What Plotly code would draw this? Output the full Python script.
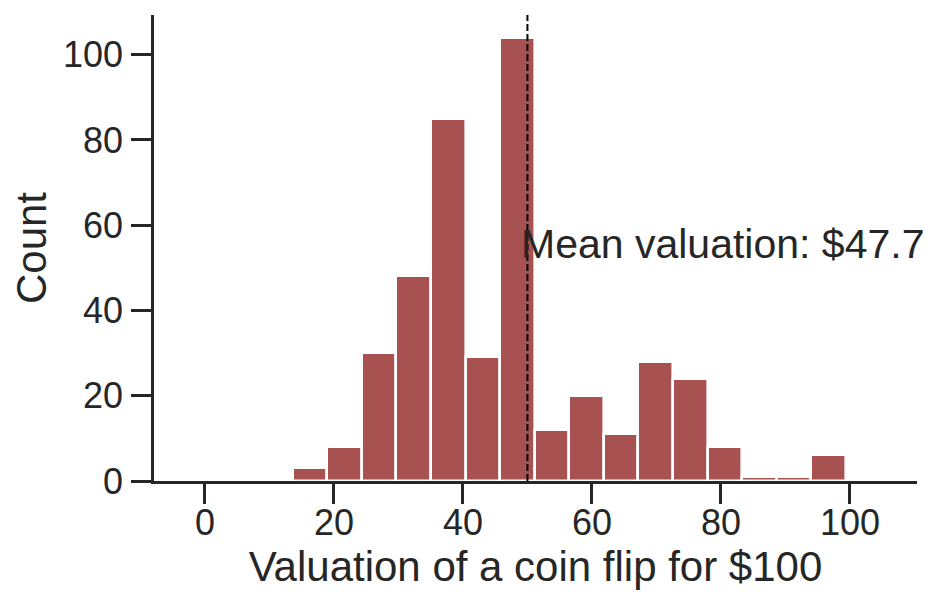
import plotly.graph_objects as go

# Histogram data
bin_start = 13.6
bin_width = 5.36
counts = [3, 8, 30, 48, 85, 29, 104, 12, 20, 11, 28, 24, 8, 1, 1, 6]
x_ticks = [0, 20, 40, 60, 80, 100]
y_ticks = [0, 20, 40, 60, 80, 100]
mean_line_x = 50
mean_label = "Mean valuation: $47.7"
label_y = 55.6

centers = [bin_start + bin_width * (i + 0.5) for i in range(len(counts))]

BAR = "#a85151"
INK = "#262626"
FONT = "Liberation Sans, Arial, sans-serif"

fig = go.Figure()
fig.add_trace(go.Bar(
    x=centers, y=counts, width=[bin_width] * len(counts),
    marker=dict(color=BAR, line=dict(color="white", width=2.6)),
    showlegend=False,
))

fig.add_shape(type="line", x0=mean_line_x, x1=mean_line_x, xref="x",
              y0=0, y1=1, yref="paper",
              line=dict(color="black", width=2, dash="7px,3px"))

fig.add_annotation(x=mean_line_x, y=label_y, xref="x", yref="y",
                   text=mean_label, showarrow=False, xanchor="left",
                   yanchor="middle", xshift=-8,
                   font=dict(family=FONT, size=41, color=INK))

fig.update_layout(
    width=933, height=595,
    margin=dict(l=146, r=24, t=7, b=122),
    plot_bgcolor="white", paper_bgcolor="white",
    font=dict(family=FONT, color=INK),
    bargap=0,
)
fig.update_xaxes(
    range=[-7.9, 110.4], tickvals=x_ticks, showgrid=False, zeroline=False,
    showline=True, linecolor=INK, linewidth=2.5, automargin=False,
    ticks="outside", ticklen=20, tickwidth=2.5, tickcolor=INK,
    tickfont=dict(size=36, color=INK), ticklabelstandoff=-12,
    title=dict(text="Valuation of a coin flip for $100",
               font=dict(size=42, color=INK), standoff=1),
)
fig.update_yaxes(
    range=[0, 109.3], tickvals=y_ticks, showgrid=False, zeroline=False,
    showline=True, linecolor=INK, linewidth=2.5, automargin=False,
    ticks="outside", ticklen=20, tickwidth=2.5, tickcolor=INK,
    tickfont=dict(size=36, color=INK), ticklabelstandoff=1,
    title=dict(text="Count", font=dict(size=42, color=INK), standoff=19),
)

fig.write_html("out.html")
